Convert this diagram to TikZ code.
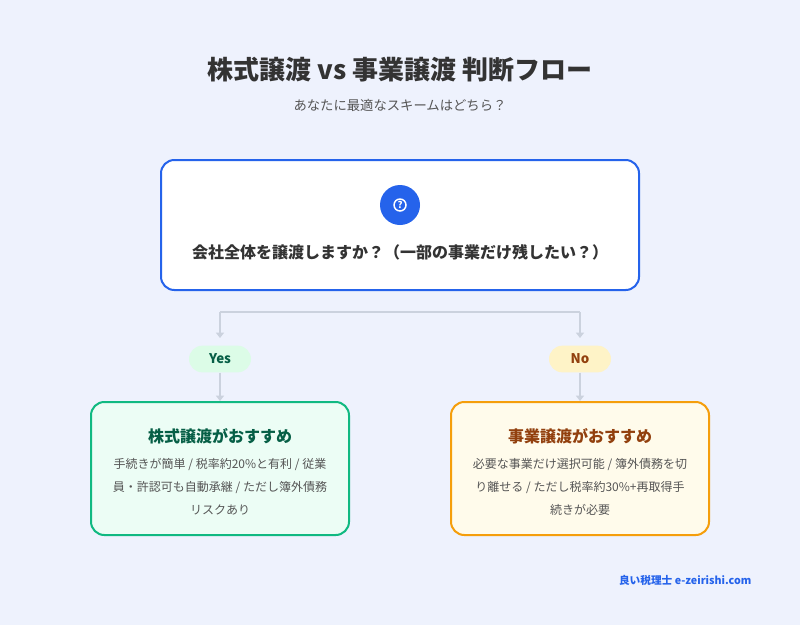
\documentclass[tikz,border=0pt]{standalone}
\usepackage{fontspec}
\setmainfont{Noto Sans CJK JP}
\usetikzlibrary{arrows.meta}
\definecolor{bg}{HTML}{EEF2FD}
\definecolor{blu}{HTML}{2563EB}
\definecolor{grn}{HTML}{10B981}
\definecolor{org}{HTML}{F59E0B}
\definecolor{ln}{HTML}{CBD2DE}
\definecolor{txt}{HTML}{333333}
\definecolor{sub}{HTML}{555555}
\definecolor{gt}{HTML}{065F46}
\definecolor{ot}{HTML}{92400E}
\definecolor{yf}{HTML}{DCFCE7}
\definecolor{nf}{HTML}{FEF3C7}
\definecolor{af}{HTML}{ECFDF5}
\definecolor{bf}{HTML}{FFFBEB}
\begin{document}
\begin{tikzpicture}[x=0.75pt,y=-0.75pt,
 conn/.style={ln,line width=1.5pt,-{Triangle[length=4pt,width=6pt]}},
 pill/.style={rounded corners=10pt,minimum width=46.5pt,minimum height=20pt,inner sep=0pt,font=\fontsize{10}{12}\selectfont\bfseries},
 card/.style={rounded corners=10pt,line width=1.5pt,minimum width=193.5pt,minimum height=99.75pt,inner sep=0pt},
 body/.style={font=\fontsize{9}{17.25}\selectfont,text=sub,align=center}]
\fill[bg] (0,0) rectangle (800,625);
\node[font=\fontsize{19.5}{22}\selectfont\bfseries,text=txt] (title) at (400,70) {株式譲渡 vs 事業譲渡 判断フロー};
\node[font=\fontsize{10}{12}\selectfont,text=sub] (subt) at (400,105) {あなたに最適なスキームはどちら？};
\node[draw=blu,fill=white,rounded corners=10pt,line width=1.5pt,minimum width=358.5pt,minimum height=97.5pt] (q) at (400,225) {};
\node[circle,fill=blu,minimum size=30pt,inner sep=0pt,text=white,font=\fontsize{7}{7}\selectfont\bfseries] (ic) at (400,205) {?};
\draw[white,line width=1.1pt] (ic) circle (4.5pt);
\node[font=\fontsize{12}{14}\selectfont\bfseries,text=txt] (qt) at (400,252) {会社全体を譲渡しますか？（一部の事業だけ残したい？）};
\coordinate (jl) at (220,312); \coordinate (jr) at (580,312);
\node[pill,fill=yf,text=gt] (yes) at (220,359) {Yes};
\node[pill,fill=nf,text=ot] (no) at (580,359) {No};
\draw[ln,line width=1.5pt] (jl) -- (jr);
\draw[conn] (jl) -- (220,338);
\draw[conn] (jr) -- (580,338);
\node[card,draw=grn,fill=af] (a) at (220,468.5) {};
\node[card,draw=org,fill=bf] (b) at (580,468.5) {};
\draw[conn] (yes.south) -- (a.north);
\draw[conn] (no.south) -- (b.north);
\node[font=\fontsize{12}{14}\selectfont\bfseries,text=gt] (at) at (220,436) {株式譲渡がおすすめ};
\node[font=\fontsize{12}{14}\selectfont\bfseries,text=ot] (bt) at (580,436) {事業譲渡がおすすめ};
\node[body,anchor=north] (ab) at (220,454) {手続きが簡単 / 税率約20\%と有利 / 従業\\員・許認可も自動承継 / ただし簿外債務\\リスクあり};
\node[body,anchor=north] (bb) at (580,454) {必要な事業だけ選択可能 / 簿外債務を切\\り離せる / ただし税率約30\%+再取得手\\続きが必要};
\node[anchor=east,font=\fontsize{8}{10}\selectfont\bfseries,text=blu] (ft) at (756,580) {良い税理士 e-zeirishi.com};
\end{tikzpicture}
\end{document}
